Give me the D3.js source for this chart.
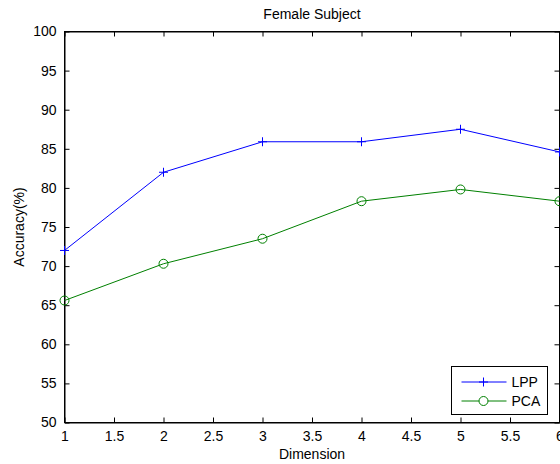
<!DOCTYPE html>
<html>
<head>
<meta charset="utf-8">
<script src="https://cdn.jsdelivr.net/npm/d3@7"></script>
<style>
html,body{margin:0;padding:0;background:#fff;}
svg{display:block;font-family:"Liberation Sans",Arial,sans-serif;}
</style>
</head>
<body>
<svg id="chart" width="560" height="464"></svg>
<script>
const dimensions = [1, 2, 3, 4, 5, 6];
const lppValues = [72.0, 82.0, 85.9, 85.9, 87.5, 84.6];
const pcaValues = [65.6, 70.3, 73.5, 78.3, 79.8, 78.3];
const xTicks = [1, 1.5, 2, 2.5, 3, 3.5, 4, 4.5, 5, 5.5, 6];
const yTicks = [50, 55, 60, 65, 70, 75, 80, 85, 90, 95, 100];
const seriesNames = ["LPP", "PCA"];
const seriesColors = ["#0000ff", "#008000"];
const chartTitle = "Female Subject";
const xLabel = "Dimension";
const yLabel = "Accuracy(%)";

const svg = d3.select("#chart");
const L = 64.5, R = 559.5, T = 31.5, B = 422.5;
const x = d3.scaleLinear().domain([1, 6]).range([L, R]);
const y = d3.scaleLinear().domain([50, 100]).range([B, T]);
const fs = 14;

// frame
svg.append("rect").attr("x", L).attr("y", T).attr("width", R - L).attr("height", B - T)
  .attr("fill", "#fff").attr("stroke", "#000").attr("stroke-width", 1);

const tickLen = 5;
// bottom axis
const xAxis = svg.append("g").attr("transform", `translate(0,${B})`)
  .call(d3.axisBottom(x).tickValues(xTicks).tickFormat(d3.format("")).tickSizeInner(-tickLen).tickSizeOuter(0).tickPadding(9));
// top ticks
const xAxisTop = svg.append("g").attr("transform", `translate(0,${T})`)
  .call(d3.axisTop(x).tickValues(xTicks).tickFormat("").tickSizeInner(-tickLen).tickSizeOuter(0));
// left axis
const yAxis = svg.append("g").attr("transform", `translate(${L},0)`)
  .call(d3.axisLeft(y).tickValues(yTicks).tickFormat(d3.format("d")).tickSizeInner(-tickLen).tickSizeOuter(0).tickPadding(8));
// right ticks
const yAxisR = svg.append("g").attr("transform", `translate(${R},0)`)
  .call(d3.axisRight(y).tickValues(yTicks).tickFormat("").tickSizeInner(-tickLen).tickSizeOuter(0));

[xAxis, xAxisTop, yAxis, yAxisR].forEach(g => {
  g.select(".domain").attr("stroke", "#000");
  g.selectAll(".tick line").attr("stroke", "#000");
  g.selectAll("text").attr("font-size", fs).attr("font-family", "Liberation Sans, Arial, sans-serif").attr("fill", "#000");
});

const line = d3.line().x((d, i) => x(dimensions[i])).y(d => y(d));

// LPP
svg.append("path").datum(lppValues).attr("d", line).attr("fill", "none")
  .attr("stroke", seriesColors[0]).attr("stroke-width", 1);
svg.append("g").selectAll("path").data(lppValues).join("path")
  .attr("d", (d, i) => {
    const cx = x(dimensions[i]), cy = y(d), s = 4.5;
    return `M${cx - s},${cy}H${cx + s}M${cx},${cy - s}V${cy + s}`;
  })
  .attr("stroke", seriesColors[0]).attr("stroke-width", 1).attr("fill", "none");

// PCA
svg.append("path").datum(pcaValues).attr("d", line).attr("fill", "none")
  .attr("stroke", seriesColors[1]).attr("stroke-width", 1);
svg.append("g").selectAll("circle").data(pcaValues).join("circle")
  .attr("cx", (d, i) => x(dimensions[i])).attr("cy", d => y(d)).attr("r", 4.5)
  .attr("fill", "none").attr("stroke", seriesColors[1]).attr("stroke-width", 1);

// title
svg.append("text").attr("x", (L + R) / 2).attr("y", 18.5).attr("text-anchor", "middle")
  .attr("font-size", fs).text(chartTitle);
// x label
svg.append("text").attr("x", (L + R) / 2).attr("y", 459).attr("text-anchor", "middle")
  .attr("font-size", fs).text(xLabel);
// y label
svg.append("text").attr("transform", `translate(24,${(T + B) / 2}) rotate(-90)`)
  .attr("text-anchor", "middle").attr("font-size", fs).text(yLabel);

// legend
const lg = svg.append("g");
const lx = 451.5, ly = 366.5, lw = 96, lh = 48;
lg.append("rect").attr("x", lx).attr("y", ly).attr("width", lw).attr("height", lh)
  .attr("fill", "#fff").attr("stroke", "#000").attr("stroke-width", 1);
seriesNames.forEach((name, i) => {
  const yy = ly + 15.5 + i * 19;
  lg.append("line").attr("x1", lx + 10).attr("x2", lx + 55).attr("y1", yy).attr("y2", yy)
    .attr("stroke", seriesColors[i]).attr("stroke-width", 1);
  const mx = lx + 32;
  if (i === 0) {
    lg.append("path").attr("d", `M${mx - 4.5},${yy}H${mx + 4.5}M${mx},${yy - 4.5}V${yy + 4.5}`)
      .attr("stroke", seriesColors[i]).attr("stroke-width", 1);
  } else {
    lg.append("circle").attr("cx", mx).attr("cy", yy).attr("r", 4.5)
      .attr("fill", "#fff").attr("stroke", seriesColors[i]).attr("stroke-width", 1);
  }
  lg.append("text").attr("x", lx + 60).attr("y", yy).attr("dy", "0.35em")
    .attr("font-size", fs).text(name);
});
</script>
</body>
</html>
